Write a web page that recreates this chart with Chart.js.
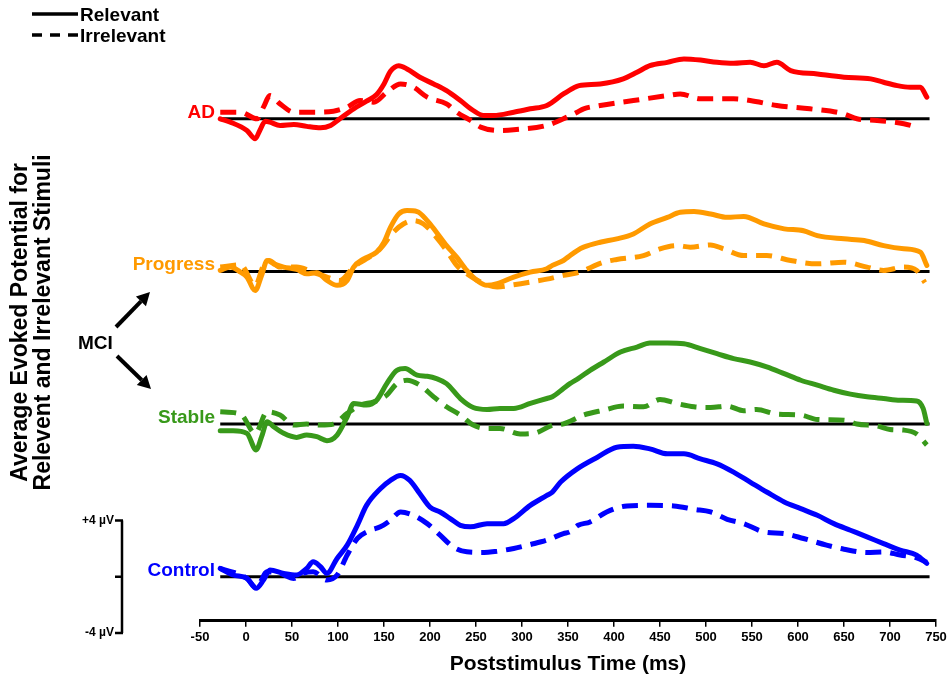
<!DOCTYPE html>
<html><head><meta charset="utf-8">
<script src="https://cdn.jsdelivr.net/npm/chart.js@4.4.1/dist/chart.umd.min.js"></script>
<style>html,body{margin:0;padding:0;background:#fff}canvas{display:block}</style>
</head><body>
<canvas id="c" width="950" height="680" style="width:950px;height:680px"></canvas>
<script>
// ---- data: [time (ms), potential (µV)] ----
const categories = ['AD', 'Progress', 'Stable', 'Control'];
const xTicks = {min: -50, max: 750, step: 50};
const scaleBar = [-4, 4]; // µV
const baselineSpan = [-28, 743];

const adRelevant = [[-28,0.0],[-17,-0.24],[1,-0.83],[10,-1.42],[15,-0.83],[21,-0.17],[26,-0.24],[37,-0.47],[52,-0.40],[66,-0.54],[81,-0.64],[92,-0.47],[102,0.0],[117,0.71],[131,1.25],[142,1.73],[150,2.48],[157,3.38],[166,3.78],[175,3.55],[189,2.96],[204,2.48],[218,2.0],[233,1.30],[247,0.59],[258,0.24],[269,0.24],[291,0.47],[309,0.71],[327,0.95],[345,1.77],[356,2.2],[362,2.36],[385,2.48],[410,2.84],[425,3.31],[439,3.78],[458,4.02],[476,4.26],[494,4.18],[512,4.02],[530,3.95],[548,4.02],[563,3.78],[577,4.02],[592,3.43],[621,3.19],[650,2.96],[679,2.84],[693,2.6],[708,2.36],[722,2.25],[733,2.25],[740,1.54]];
const adIrrelevant = [[-28,0.47],[-6,0.47],[12,0.0],[19,0.83],[26,1.65],[37,1.06],[52,0.47],[73,0.47],[95,0.54],[110,0.83],[124,1.30],[139,1.18],[153,1.89],[168,2.48],[182,2.25],[197,1.54],[218,1.06],[229,0.47],[244,-0.12],[255,-0.59],[276,-0.83],[291,-0.78],[327,-0.47],[349,0.12],[360,0.47],[367,0.71],[385,0.95],[421,1.30],[458,1.65],[472,1.77],[494,1.42],[530,1.42],[548,1.30],[577,0.95],[613,0.71],[650,0.35],[664,0.0],[686,-0.12],[715,-0.35],[729,-0.59]];

const progressRelevant = [[-28,0.07],[-17,0.31],[-6,-0.05],[1,-0.4],[10,-1.35],[17,-0.28],[23,0.78],[30,0.54],[41,0.31],[55,0.14],[66,-0.17],[77,-0.09],[88,-0.64],[99,-0.99],[110,-0.64],[117,0.31],[128,0.9],[142,1.37],[150,2.08],[157,3.14],[166,4.09],[175,4.33],[186,4.26],[197,3.62],[207,2.79],[218,1.84],[229,1.02],[240,0.07],[251,-0.64],[262,-0.99],[273,-0.87],[291,-0.4],[309,-0.05],[327,0.19],[333,0.43],[345,0.78],[350,1.02],[360,1.49],[367,1.73],[385,2.08],[403,2.32],[421,2.67],[439,3.38],[458,3.85],[472,4.21],[487,4.26],[505,4.09],[523,3.85],[541,3.92],[563,3.38],[585,3.03],[606,2.9],[621,2.55],[650,2.32],[672,2.2],[693,1.84],[715,1.61],[733,1.37],[740,0.43]];
const progressIrrelevant = [[-28,0.31],[-6,0.47],[10,-1.0],[19,0.43],[25,0.78],[37,0.31],[55,0.31],[73,-0.05],[88,-0.4],[102,-0.64],[117,0.31],[131,0.9],[146,1.61],[160,2.79],[171,3.38],[182,3.62],[193,3.38],[207,2.43],[218,1.49],[229,0.43],[240,-0.17],[255,-0.76],[273,-1.11],[291,-0.95],[309,-0.76],[327,-0.55],[345,-0.28],[360,-0.1],[389,0.66],[403,0.85],[432,1.13],[450,1.61],[468,1.84],[483,1.73],[505,1.89],[519,1.61],[541,1.13],[566,1.13],[592,0.78],[621,0.54],[650,0.66],[675,0.31],[693,0.07],[715,0.31],[729,0.07],[738,-0.8]];

const stableRelevant = [[-28,-0.47],[-14,-0.47],[1,-0.66],[11,-1.84],[17,-0.9],[23,0.17],[30,-0.19],[41,-0.66],[55,-0.95],[66,-0.78],[77,-0.9],[88,-1.18],[99,-0.78],[110,0.52],[117,1.47],[131,1.35],[142,1.7],[153,2.88],[164,3.83],[173,3.95],[186,3.48],[197,3.4],[207,3.24],[218,2.88],[233,1.82],[247,1.18],[262,1.04],[276,1.11],[291,1.11],[309,1.47],[327,1.82],[333,1.94],[345,2.53],[352,2.88],[361,3.24],[374,3.83],[389,4.42],[407,5.13],[425,5.48],[439,5.77],[458,5.77],[476,5.72],[494,5.37],[512,5.01],[530,4.66],[548,4.42],[566,4.07],[585,3.59],[603,3.12],[621,2.77],[639,2.41],[657,2.13],[675,1.94],[693,1.82],[711,1.70],[729,1.65],[736,1.11],[740,0.05]];
const stableIrrelevant = [[-28,0.87],[-6,0.71],[10,-0.66],[23,0.87],[37,0.64],[52,-0.07],[66,0.0],[81,-0.07],[95,0.0],[110,0.76],[124,1.35],[139,1.58],[153,2.06],[164,2.88],[175,3.12],[189,2.77],[204,1.94],[218,1.23],[233,0.64],[247,-0.07],[262,-0.31],[276,-0.31],[298,-0.71],[313,-0.66],[334,-0.07],[344,0.0],[367,0.64],[389,0.99],[410,1.28],[432,1.23],[450,1.75],[468,1.47],[487,1.23],[505,1.18],[523,1.28],[541,0.95],[555,1.04],[577,0.71],[603,0.64],[621,0.33],[650,0.28],[664,0.0],[686,-0.14],[700,-0.38],[715,-0.43],[729,-0.71],[740,-1.49]];

const controlRelevant = [[-28,0.59],[-14,0.12],[1,-0.12],[11,-0.83],[19,-0.24],[26,0.47],[41,0.24],[55,0.12],[66,0.59],[73,1.06],[81,0.71],[88,0.24],[99,1.30],[110,2.25],[121,3.66],[131,5.08],[146,6.26],[157,6.86],[168,7.21],[178,6.86],[189,5.91],[200,4.96],[211,4.61],[222,4.14],[233,3.66],[244,3.55],[262,3.78],[280,3.78],[291,4.14],[309,5.08],[327,5.79],[333,6.03],[342,6.74],[360,7.68],[382,8.51],[403,9.22],[421,9.29],[439,9.1],[458,8.75],[476,8.75],[494,8.39],[512,8.04],[530,7.45],[548,6.74],[566,6.03],[585,5.32],[603,4.85],[621,4.37],[639,3.78],[657,3.31],[675,2.84],[693,2.36],[711,1.89],[729,1.54],[740,0.95]];
const controlIrrelevant = [[-28,0.59],[1,-0.12],[11,-0.78],[23,0.35],[37,0.24],[52,-0.12],[62,0.24],[73,0.35],[88,-0.24],[99,0.12],[110,1.54],[121,2.72],[135,3.31],[146,3.55],[157,4.02],[168,4.61],[182,4.37],[197,3.78],[211,2.96],[225,2.13],[240,1.77],[255,1.73],[273,1.82],[291,2.01],[309,2.29],[327,2.6],[345,3.07],[352,3.19],[361,3.66],[374,3.9],[392,4.61],[414,5.04],[439,5.08],[465,5.04],[487,4.8],[505,4.61],[523,4.09],[541,3.78],[563,3.19],[585,3.07],[606,2.72],[631,2.25],[650,1.96],[675,1.73],[693,1.77],[711,1.54],[729,1.35],[740,1.02]];

// ---- layout / style ----
const groupSpacing = 10.87; // vertical separation between traces, in µV
const FONT = "'Liberation Sans', Arial, Helvetica, sans-serif";
const groups = [
  {label: categories[0], color: '#ff0000', rel: adRelevant, irr: adIrrelevant, level: 3},
  {label: categories[1], color: '#ff9a00', rel: progressRelevant, irr: progressIrrelevant, level: 2},
  {label: categories[2], color: '#38991a', rel: stableRelevant, irr: stableIrrelevant, level: 1},
  {label: categories[3], color: '#0000ff', rel: controlRelevant, irr: controlIrrelevant, level: 0}
];

const toXY = (arr, off) => arr.map(p => ({x: p[0], y: p[1] + off}));
const datasets = [];
groups.forEach(g => {
  const off = g.level * groupSpacing;
  datasets.push({label: g.label + ' baseline', data: [{x: baselineSpan[0], y: off}, {x: baselineSpan[1], y: off}],
    borderColor: '#000', borderWidth: 3, pointRadius: 0, order: 10});
  datasets.push({label: g.label + ' Irrelevant', data: toXY(g.irr, off), borderColor: g.color, borderWidth: 5,
    borderDash: [16, 9], pointRadius: 0, cubicInterpolationMode: 'monotone', borderCapStyle: 'butt', borderJoinStyle: 'round', order: 2});
  datasets.push({label: g.label + ' Relevant', data: toXY(g.rel, off), borderColor: g.color, borderWidth: 5,
    pointRadius: 0, cubicInterpolationMode: 'monotone', borderCapStyle: 'round', borderJoinStyle: 'round', order: 1});
});

function arrow(ctx, x1, y1, x2, y2) {
  const a = Math.atan2(y2 - y1, x2 - x1), L = 13, W = 7;
  const bx = x2 - L * Math.cos(a), by = y2 - L * Math.sin(a);
  ctx.beginPath(); ctx.moveTo(x1, y1); ctx.lineTo(bx, by); ctx.stroke();
  ctx.beginPath(); ctx.moveTo(x2, y2);
  ctx.lineTo(bx + W * Math.sin(a), by - W * Math.cos(a));
  ctx.lineTo(bx - W * Math.sin(a), by + W * Math.cos(a));
  ctx.closePath(); ctx.fill();
}

const annotations = {
  id: 'annotations',
  afterDraw(chart) {
    const ctx = chart.ctx, ys = chart.scales.y;
    ctx.save();
    // legend
    ctx.strokeStyle = '#000'; ctx.lineWidth = 3.5;
    ctx.beginPath(); ctx.moveTo(32, 14); ctx.lineTo(78, 14); ctx.stroke();
    ctx.setLineDash([10, 8]);
    ctx.beginPath(); ctx.moveTo(32, 35); ctx.lineTo(78, 35); ctx.stroke();
    ctx.setLineDash([]);
    ctx.fillStyle = '#000'; ctx.font = 'bold 19px ' + FONT;
    ctx.textAlign = 'left'; ctx.textBaseline = 'alphabetic';
    ctx.fillText('Relevant', 80, 21);
    ctx.fillText('Irrelevant', 80, 42);
    // group labels
    ctx.textAlign = 'right';
    groups.forEach(g => {
      ctx.fillStyle = g.color;
      ctx.fillText(g.label, 215, ys.getPixelForValue(g.level * groupSpacing) - 1);
    });
    // MCI and arrows
    ctx.fillStyle = '#000'; ctx.textAlign = 'left';
    ctx.fillText('MCI', 78, 349);
    ctx.lineWidth = 4;
    arrow(ctx, 116, 327, 150, 292);
    arrow(ctx, 117, 356, 151, 389);
    // scale bar
    const yTop = ys.getPixelForValue(scaleBar[1]), yBot = ys.getPixelForValue(scaleBar[0]), yMid = ys.getPixelForValue(0);
    ctx.lineWidth = 2.5; ctx.strokeStyle = '#000';
    ctx.beginPath();
    ctx.moveTo(122, yTop); ctx.lineTo(122, yBot);
    ctx.moveTo(115, yTop); ctx.lineTo(123, yTop);
    ctx.moveTo(115, yMid); ctx.lineTo(123, yMid);
    ctx.moveTo(115, yBot); ctx.lineTo(123, yBot);
    ctx.stroke();
    ctx.font = 'bold 12px ' + FONT; ctx.textAlign = 'right'; ctx.textBaseline = 'middle';
    ctx.fillText('+' + scaleBar[1] + ' µV', 114, yTop);
    ctx.fillText(scaleBar[0] + ' µV', 114, yBot);
    ctx.restore();
  }
};

Chart.defaults.font.family = FONT;
new Chart(document.getElementById('c'), {
  type: 'line',
  data: {datasets},
  options: {
    responsive: false, animation: false, devicePixelRatio: 1,
    layout: {padding: {left: 0, right: 14, top: 24, bottom: 1.4}},
    plugins: {legend: {display: false}, tooltip: {enabled: false}},
    scales: {
      x: {
        type: 'linear', min: xTicks.min, max: xTicks.max,
        ticks: {stepSize: xTicks.step, autoSkip: false, maxRotation: 0, color: '#000', font: {size: 13, weight: 'bold'}, padding: 3},
        grid: {display: true, drawOnChartArea: false, drawTicks: true, tickLength: 6, color: '#000', lineWidth: 1.5},
        border: {display: true, color: '#000', width: 3},
        title: {display: true, text: 'Poststimulus Time (ms)', color: '#000', font: {size: 21, weight: 'bold'}, padding: {top: 3, bottom: 2}}
      },
      y: {
        type: 'linear', min: -3.14, max: 39.36,
        ticks: {display: false}, grid: {display: false}, border: {display: false},
        title: {display: true, text: ['Average Evoked Potential for', 'Relevent and Irrelevant Stimuli'], color: '#000',
          font: {size: 23, weight: 'bold', lineHeight: 1.0}, padding: {top: 9.5, bottom: 0}},
        afterFit(s) { s.width = 200; }
      }
    }
  },
  plugins: [annotations]
});
</script></body></html>
